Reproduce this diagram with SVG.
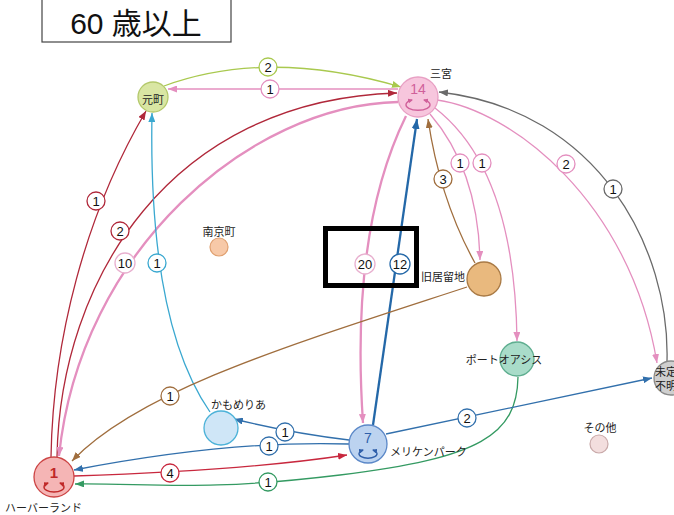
<svg xmlns="http://www.w3.org/2000/svg" width="674" height="515" viewBox="0 0 674 515">
<style>
.jp{font-family:"Noto Sans CJK JP","Liberation Sans",sans-serif;font-size:11px;fill:#222}
.num{font-family:"Liberation Sans",Arial,sans-serif;font-size:13px;fill:#111;text-anchor:middle}
.lb{fill:#fff;stroke-width:1.3}
.e{fill:none;stroke-width:1.3}
.thick{stroke-width:2.3}
.loop{fill:none;stroke-width:1.4}
</style>
<defs>
<marker id="mGreen" markerUnits="userSpaceOnUse" markerWidth="9" markerHeight="7" refX="9" refY="3.5" orient="auto"><path d="M0,0 L9,3.5 L0,7 z" fill="#a9c94f"/></marker>
<marker id="mPink" markerUnits="userSpaceOnUse" markerWidth="9" markerHeight="7" refX="9" refY="3.5" orient="auto"><path d="M0,0 L9,3.5 L0,7 z" fill="#e48fbf"/></marker>
<marker id="mDred" markerUnits="userSpaceOnUse" markerWidth="9" markerHeight="7" refX="9" refY="3.5" orient="auto"><path d="M0,0 L9,3.5 L0,7 z" fill="#b0283a"/></marker>
<marker id="mRed" markerUnits="userSpaceOnUse" markerWidth="9" markerHeight="7" refX="9" refY="3.5" orient="auto"><path d="M0,0 L9,3.5 L0,7 z" fill="#c8283e"/></marker>
<marker id="mLblue" markerUnits="userSpaceOnUse" markerWidth="9" markerHeight="7" refX="9" refY="3.5" orient="auto"><path d="M0,0 L9,3.5 L0,7 z" fill="#3aa8d0"/></marker>
<marker id="mDblue" markerUnits="userSpaceOnUse" markerWidth="10" markerHeight="8" refX="10" refY="4" orient="auto"><path d="M0,0 L10,4 L0,8 z" fill="#2468a8"/></marker>
<marker id="mBlue" markerUnits="userSpaceOnUse" markerWidth="9" markerHeight="7" refX="9" refY="3.5" orient="auto"><path d="M0,0 L9,3.5 L0,7 z" fill="#3270ac"/></marker>
<marker id="mBrown" markerUnits="userSpaceOnUse" markerWidth="9" markerHeight="7" refX="9" refY="3.5" orient="auto"><path d="M0,0 L9,3.5 L0,7 z" fill="#a06e3e"/></marker>
<marker id="mGray" markerUnits="userSpaceOnUse" markerWidth="9" markerHeight="7" refX="9" refY="3.5" orient="auto"><path d="M0,0 L9,3.5 L0,7 z" fill="#6a6a6a"/></marker>
<marker id="mGreen2" markerUnits="userSpaceOnUse" markerWidth="9" markerHeight="7" refX="9" refY="3.5" orient="auto"><path d="M0,0 L9,3.5 L0,7 z" fill="#349a62"/></marker>
<marker id="lpPink" markerUnits="userSpaceOnUse" markerWidth="5" markerHeight="5" refX="4" refY="2.5" orient="auto-start-reverse"><path d="M0,0 L5,2.5 L0,5 z" fill="#d0609a"/></marker>
<marker id="lpBlue" markerUnits="userSpaceOnUse" markerWidth="5" markerHeight="5" refX="4" refY="2.5" orient="auto-start-reverse"><path d="M0,0 L5,2.5 L0,5 z" fill="#2f5faa"/></marker>
<marker id="lpRed" markerUnits="userSpaceOnUse" markerWidth="5" markerHeight="5" refX="4" refY="2.5" orient="auto-start-reverse"><path d="M0,0 L5,2.5 L0,5 z" fill="#c02828"/></marker>
</defs>
<rect width="674" height="515" fill="#fff"/>
<g id="title">
<rect x="42" y="-1" width="189" height="43" fill="#fff" stroke="#444" stroke-width="1.2"/>
<text x="136" y="34" text-anchor="middle" font-family="Liberation Sans,Noto Sans CJK JP,sans-serif" font-size="30" fill="#111">60 歳以上</text>
</g>
<g id="connectors">
<path class="e" stroke="#a9c94f" d="M164,86 Q268,48 401,87" marker-end="url(#mGreen)"/>
<path class="e" stroke="#e48fbf" d="M398,89 L168,89" marker-end="url(#mPink)"/>
<path class="e" stroke="#b0283a" d="M51,457 C53,340 85,215 146,111" marker-end="url(#mDred)"/>
<path class="e" stroke="#b0283a" d="M57,457 C60,280 170,100 397,93" marker-end="url(#mDred)"/>
<path class="e thick" stroke="#e48fbf" d="M398,102 C250,105 80,250 59,456" marker-end="url(#mPink)"/>
<path class="e" stroke="#3aa8d0" d="M210,412 C160,340 150,220 152,113" marker-end="url(#mLblue)"/>
<path class="e thick" stroke="#2468a8" d="M373,425 L417,119" marker-end="url(#mDblue)"/>
<path class="e thick" stroke="#e48fbf" d="M406,116 Q350,230 363,423" marker-end="url(#mPink)"/>
<path class="e" stroke="#a06e3e" d="M475,263 Q440,200 428,119" marker-end="url(#mBrown)"/>
<path class="e" stroke="#e48fbf" d="M430,114 Q478,170 480,260" marker-end="url(#mPink)"/>
<path class="e" stroke="#e48fbf" d="M435,108 Q515,170 517,341" marker-end="url(#mPink)"/>
<path class="e" stroke="#e48fbf" d="M437,100 C510,110 630,200 657,363" marker-end="url(#mPink)"/>
<path class="e" stroke="#6a6a6a" d="M667,361 C670,250 600,110 439,92" marker-end="url(#mGray)"/>
<path class="e" stroke="#a06e3e" d="M467,287 C290,345 140,390 72,461" marker-end="url(#mBrown)"/>
<path class="e" stroke="#3270ac" d="M349,440 Q290,433 234,419" marker-end="url(#mBlue)"/>
<path class="e" stroke="#3270ac" d="M349,444 Q230,440 74,470" marker-end="url(#mBlue)"/>
<path class="e" stroke="#c8283e" d="M74,476 Q250,470 347,455" marker-end="url(#mRed)"/>
<path class="e" stroke="#349a62" d="M518,377 C517,435 480,458 340,475 S150,483 75,484" marker-end="url(#mGreen2)"/>
<path class="e" stroke="#3270ac" d="M386,434 L652,378" marker-end="url(#mBlue)"/>
<g id="edge-labels">
<circle class="lb" cx="268" cy="67" r="9" stroke="#a9c94f"/><text class="num" x="268" y="71.5">2</text>
<circle class="lb" cx="270" cy="89" r="9" stroke="#e48fbf"/><text class="num" x="270" y="93.5">1</text>
<circle class="lb" cx="96" cy="201" r="9" stroke="#b0283a"/><text class="num" x="96" y="205.5">1</text>
<circle class="lb" cx="120" cy="231" r="9" stroke="#b0283a"/><text class="num" x="120" y="235.5">2</text>
<circle class="lb" cx="125" cy="263" r="10" stroke="#e8b0cf"/><text class="num" x="125" y="267.5">10</text>
<circle class="lb" cx="157" cy="263" r="9" stroke="#3aa8d0"/><text class="num" x="157" y="267.5">1</text>
<circle class="lb" cx="365" cy="264" r="10" stroke="#e8b0cf"/><text class="num" x="365" y="268.5">20</text>
<circle class="lb" cx="400" cy="264" r="10" stroke="#2468a8"/><text class="num" x="400" y="268.5">12</text>
<circle class="lb" cx="443" cy="179" r="9" stroke="#a06e3e"/><text class="num" x="443" y="183.5">3</text>
<circle class="lb" cx="460" cy="163" r="9" stroke="#e48fbf"/><text class="num" x="460" y="167.5">1</text>
<circle class="lb" cx="482" cy="163" r="9" stroke="#e48fbf"/><text class="num" x="482" y="167.5">1</text>
<circle class="lb" cx="566" cy="164" r="9" stroke="#e48fbf"/><text class="num" x="566" y="168.5">2</text>
<circle class="lb" cx="613" cy="189" r="9" stroke="#6a6a6a"/><text class="num" x="613" y="193.5">1</text>
<circle class="lb" cx="170" cy="396" r="9" stroke="#a06e3e"/><text class="num" x="170" y="400.5">1</text>
<circle class="lb" cx="285" cy="432" r="9" stroke="#3270ac"/><text class="num" x="285" y="436.5">1</text>
<circle class="lb" cx="269" cy="446" r="9" stroke="#3270ac"/><text class="num" x="269" y="450.5">1</text>
<circle class="lb" cx="170" cy="473" r="9" stroke="#c8283e"/><text class="num" x="170" y="477.5">4</text>
<circle class="lb" cx="268" cy="482" r="9" stroke="#349a62"/><text class="num" x="268" y="486.5">1</text>
<circle class="lb" cx="467" cy="418" r="9" stroke="#3270ac"/><text class="num" x="467" y="422.5">2</text>
</g>
</g>
<g id="motomachi">
<circle cx="153" cy="97" r="15" fill="#d9e6a3" stroke="#b3c86a" stroke-width="1.3"/>
<text class="jp" x="153" y="104" text-anchor="middle">元町</text>
</g>
<g id="sannomiya">
<circle cx="418" cy="97" r="20" fill="#f7c6dd" stroke="#e8a0c4" stroke-width="1.3"/>
<text x="418" y="94" text-anchor="middle" font-family="Liberation Sans,sans-serif" font-size="14" fill="#d0609a">14</text>
<path class="loop" stroke="#d0609a" d="M412,100 A12 5.5 0 1 0 424,100" marker-start="url(#lpPink)" marker-end="url(#lpPink)"/>
<text class="jp" x="441" y="78" text-anchor="middle">三宮</text>
</g>
<g id="nankinmachi">
<circle cx="219" cy="247" r="9" fill="#f7c9a8" stroke="#e0a070" stroke-width="1.2"/>
<text class="jp" x="219" y="236" text-anchor="middle">南京町</text>
</g>
<g id="kyukyoryuchi">
<circle cx="484" cy="279" r="17" fill="#e9b97e" stroke="#a97a45" stroke-width="1.3"/>
<text class="jp" x="465" y="281" text-anchor="end">旧居留地</text>
</g>
<g id="portoasis">
<circle cx="517" cy="359" r="17" fill="#a9dcc9" stroke="#5fae90" stroke-width="1.3"/>
<text class="jp" x="504" y="364" text-anchor="middle">ポートオアシス</text>
</g>
<g id="mitei">
<circle cx="671" cy="378" r="17" fill="#cfcfcf" stroke="#8a8a8a" stroke-width="1.3"/>
<text class="jp" x="655" y="376" font-size="10.5">未定</text>
<text class="jp" x="655" y="390" font-size="10.5">不明</text>
</g>
<g id="sonota">
<circle cx="599" cy="444" r="9" fill="#f3dede" stroke="#c9a9a9" stroke-width="1.2"/>
<text class="jp" x="600" y="432" text-anchor="middle">その他</text>
</g>
<g id="kamomeria">
<circle cx="221" cy="428" r="17" fill="#cfe6f7" stroke="#4cb2d8" stroke-width="1.3"/>
<text class="jp" x="211" y="409">かもめりあ</text>
</g>
<g id="meriken">
<circle cx="368" cy="444" r="19" fill="#bcd3f0" stroke="#5b88c8" stroke-width="1.3"/>
<text x="368" y="443" text-anchor="middle" font-family="Liberation Sans,sans-serif" font-size="14" fill="#2f5faa">7</text>
<path class="loop" stroke="#2f5faa" d="M363,450 A9 4.5 0 1 0 373,450" marker-start="url(#lpBlue)" marker-end="url(#lpBlue)"/>
<text class="jp" x="390" y="456" font-size="10.5">メリケンパーク</text>
</g>
<g id="harborland">
<circle cx="54" cy="477" r="20" fill="#f5b5b5" stroke="#cc4444" stroke-width="1.3"/>
<text x="54" y="478" text-anchor="middle" font-family="Liberation Sans,sans-serif" font-size="15" font-weight="bold" fill="#c02828">1</text>
<path class="loop" stroke="#c02828" d="M48,483 A10 5 0 1 0 60,483" marker-start="url(#lpRed)" marker-end="url(#lpRed)"/>
<text class="jp" x="5" y="512">ハーバーランド</text>
</g>
<rect x="325.5" y="228.5" width="91" height="57" fill="none" stroke="#000" stroke-width="5"/>
</svg>
